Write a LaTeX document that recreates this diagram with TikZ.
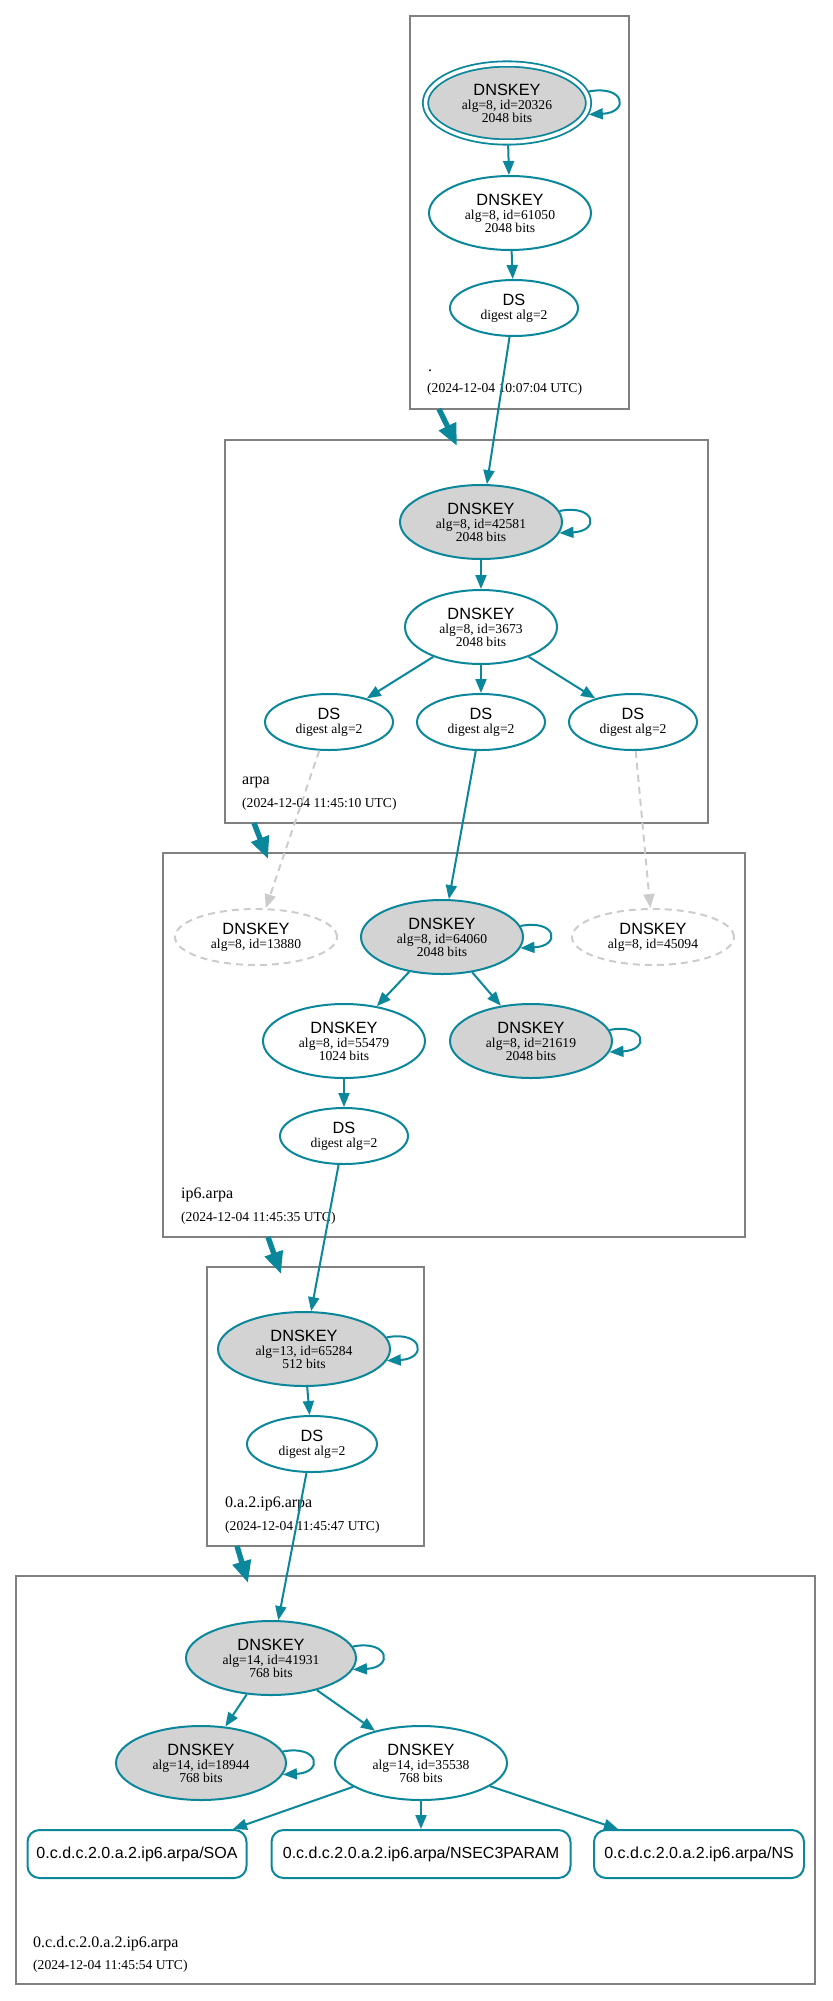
\documentclass[tikz,border=0pt]{standalone}
\usepackage{fontspec}
\setmainfont{Liberation Serif}
\newfontfamily\sansf{Liberation Sans}
\usetikzlibrary{shapes.geometric,arrows.meta}
\definecolor{sec}{HTML}{0A879A}
\definecolor{sepfill}{HTML}{D3D3D3}
\definecolor{nx}{HTML}{CCCCCC}
\definecolor{clus}{HTML}{808080}
\newcommand\ttl[1]{{\sansf\fontsize{16.3}{16}\selectfont #1}}
\newcommand\sloop[1]{\draw[edge] (#1.8) .. controls +(36,-7) and +(41,-2) .. (#1.-8);}
\begin{document}
\begin{tikzpicture}[x=1pt,y=-1pt,
 base/.style={ellipse, draw=sec, line width=2pt, inner sep=0pt, align=center, font=\fontsize{13.6}{13}\selectfont},
 sepkey/.style={base, fill=sepfill, minimum height=74},
 key/.style={base, fill=white, minimum height=74},
 dsnode/.style={base, fill=white, minimum width=128, minimum height=56},
 nxkey/.style={base, draw=nx, dash pattern=on 7pt off 5pt, minimum width=162, minimum height=56},
 rr/.style={rectangle, rounded corners=12pt, draw=sec, line width=2pt, minimum height=48, inner sep=0pt, font=\sansf\fontsize{16}{16}\selectfont},
 edge/.style={draw=sec, line width=2pt, -{Triangle[length=14pt,width=11pt]}},
 nxedge/.style={draw=nx, line width=2pt, dash pattern=on 7pt off 5pt, -{Triangle[length=14pt,width=11pt]}},
 deleg/.style={draw=sec, line width=5.4pt, -{Triangle[length=22pt,width=18pt]}},
 clusterbox/.style={draw=clus, line width=1.3pt},
 zname/.style={anchor=base west, inner sep=0pt, font=\fontsize{16}{16}\selectfont},
 zdate/.style={anchor=base west, inner sep=0pt, font=\fontsize{13.6}{13}\selectfont},
]
\useasboundingbox (0,0) rectangle (832,2001);

% clusters
\draw[clusterbox] (410,16) rectangle (629,409);
\draw[clusterbox] (225,440) rectangle (708,823);
\draw[clusterbox] (163,853) rectangle (745,1237);
\draw[clusterbox] (207,1267) rectangle (424,1546);
\draw[clusterbox] (16,1576) rectangle (815,1984);

% zone labels
\node[zname] (n0) at (428,371) {.};
\node[zdate] (d0) at (427,392) {(2024-12-04 10:07:04 UTC)};
\node[zname] (n1) at (242,784) {arpa};
\node[zdate] (d1) at (242,807) {(2024-12-04 11:45:10 UTC)};
\node[zname] (n2) at (181,1198) {ip6.arpa};
\node[zdate] (d2) at (181,1221) {(2024-12-04 11:45:35 UTC)};
\node[zname] (n3) at (225,1507) {0.a.2.ip6.arpa};
\node[zdate] (d3) at (225,1530) {(2024-12-04 11:45:47 UTC)};
\node[zname] (n4) at (33,1947) {0.c.d.c.2.0.a.2.ip6.arpa};
\node[zdate] (d4) at (33,1969) {(2024-12-04 11:45:54 UTC)};

% root
\node[sepkey, double=white, double distance=3.5pt, line width=1.8pt, outer sep=3.5pt, minimum width=163, minimum height=78] (k20326) at (507,103) {\ttl{DNSKEY}\\[1pt]alg=8, id=20326\\2048 bits};
\node[key, minimum width=162] (k61050) at (510,213) {\ttl{DNSKEY}\\[1pt]alg=8, id=61050\\2048 bits};
\node[dsnode] (ds0) at (514,308) {\ttl{DS}\\[1pt]digest alg=2};

% arpa
\node[sepkey, minimum width=162] (k42581) at (481,522) {\ttl{DNSKEY}\\[1pt]alg=8, id=42581\\2048 bits};
\node[key, minimum width=152] (k3673) at (481,627) {\ttl{DNSKEY}\\[1pt]alg=8, id=3673\\2048 bits};
\node[dsnode] (dsA) at (329,722) {\ttl{DS}\\[1pt]digest alg=2};
\node[dsnode] (dsB) at (481,722) {\ttl{DS}\\[1pt]digest alg=2};
\node[dsnode] (dsC) at (633,722) {\ttl{DS}\\[1pt]digest alg=2};

% ip6.arpa
\node[nxkey] (k13880) at (256,937) {\ttl{DNSKEY}\\[1pt]alg=8, id=13880};
\node[sepkey, minimum width=162] (k64060) at (442,937) {\ttl{DNSKEY}\\[1pt]alg=8, id=64060\\2048 bits};
\node[nxkey] (k45094) at (653,937) {\ttl{DNSKEY}\\[1pt]alg=8, id=45094};
\node[key, minimum width=162] (k55479) at (344,1041) {\ttl{DNSKEY}\\[1pt]alg=8, id=55479\\1024 bits};
\node[sepkey, minimum width=162] (k21619) at (531,1041) {\ttl{DNSKEY}\\[1pt]alg=8, id=21619\\2048 bits};
\node[dsnode] (dsI) at (344,1136) {\ttl{DS}\\[1pt]digest alg=2};

% 0.a.2.ip6.arpa
\node[sepkey, minimum width=172] (k65284) at (304,1349) {\ttl{DNSKEY}\\[1pt]alg=13, id=65284\\512 bits};
\node[dsnode, minimum width=130] (dsZ) at (312,1444) {\ttl{DS}\\[1pt]digest alg=2};

% 0.c.d.c.2.0.a.2.ip6.arpa
\node[sepkey, minimum width=170] (k41931) at (271,1658) {\ttl{DNSKEY}\\[1pt]alg=14, id=41931\\768 bits};
\node[sepkey, minimum width=170] (k18944) at (201,1763) {\ttl{DNSKEY}\\[1pt]alg=14, id=18944\\768 bits};
\node[key, minimum width=172] (k35538) at (421,1763) {\ttl{DNSKEY}\\[1pt]alg=14, id=35538\\768 bits};
\node[rr, minimum width=219] (soa) at (137,1854) {0.c.d.c.2.0.a.2.ip6.arpa/SOA};
\node[rr, minimum width=299] (nsec) at (421,1854) {0.c.d.c.2.0.a.2.ip6.arpa/NSEC3PARAM};
\node[rr, minimum width=210] (ns) at (699,1854) {0.c.d.c.2.0.a.2.ip6.arpa/NS};

% self loops
\sloop{k20326}
\sloop{k42581}
\sloop{k64060}
\sloop{k21619}
\sloop{k65284}
\sloop{k41931}
\sloop{k18944}

% edges
\draw[edge] (k20326) -- (k61050);
\draw[edge] (k61050) -- (ds0);
\draw[edge] (ds0) -- (k42581);
\draw[edge] (k42581) -- (k3673);
\draw[edge] (k3673) -- (dsA);
\draw[edge] (k3673) -- (dsB);
\draw[edge] (k3673) -- (dsC);
\draw[nxedge] (dsA) -- (k13880);
\draw[edge] (dsB) -- (k64060);
\draw[nxedge] (dsC) -- (k45094);
\draw[edge] (k64060) -- (k55479);
\draw[edge] (k64060) -- (k21619);
\draw[edge] (k55479) -- (dsI);
\draw[edge] (dsI) -- (k65284);
\draw[edge] (k65284) -- (dsZ);
\draw[edge] (dsZ) -- (k41931);
\draw[edge] (k41931) -- (k18944);
\draw[edge] (k41931) -- (k35538);
\draw[edge] (k35538) -- ([xshift=96pt]soa.north);
\draw[edge] (k35538) -- (nsec);
\draw[edge] (k35538) -- ([xshift=-81pt]ns.north);

% delegation arrows between zones
\coordinate (c0out) at (439,409);
\coordinate (c1in) at (457,446);
\coordinate (c1out) at (254,823);
\coordinate (c2in) at (268,859);
\coordinate (c2out) at (268,1237);
\coordinate (c3in) at (281,1274);
\coordinate (c3out) at (237,1546);
\coordinate (c4in) at (248,1583);
\draw[deleg] (c0out) -- (c1in);
\draw[deleg] (c1out) -- (c2in);
\draw[deleg] (c2out) -- (c3in);
\draw[deleg] (c3out) -- (c4in);
\end{tikzpicture}
\end{document}
